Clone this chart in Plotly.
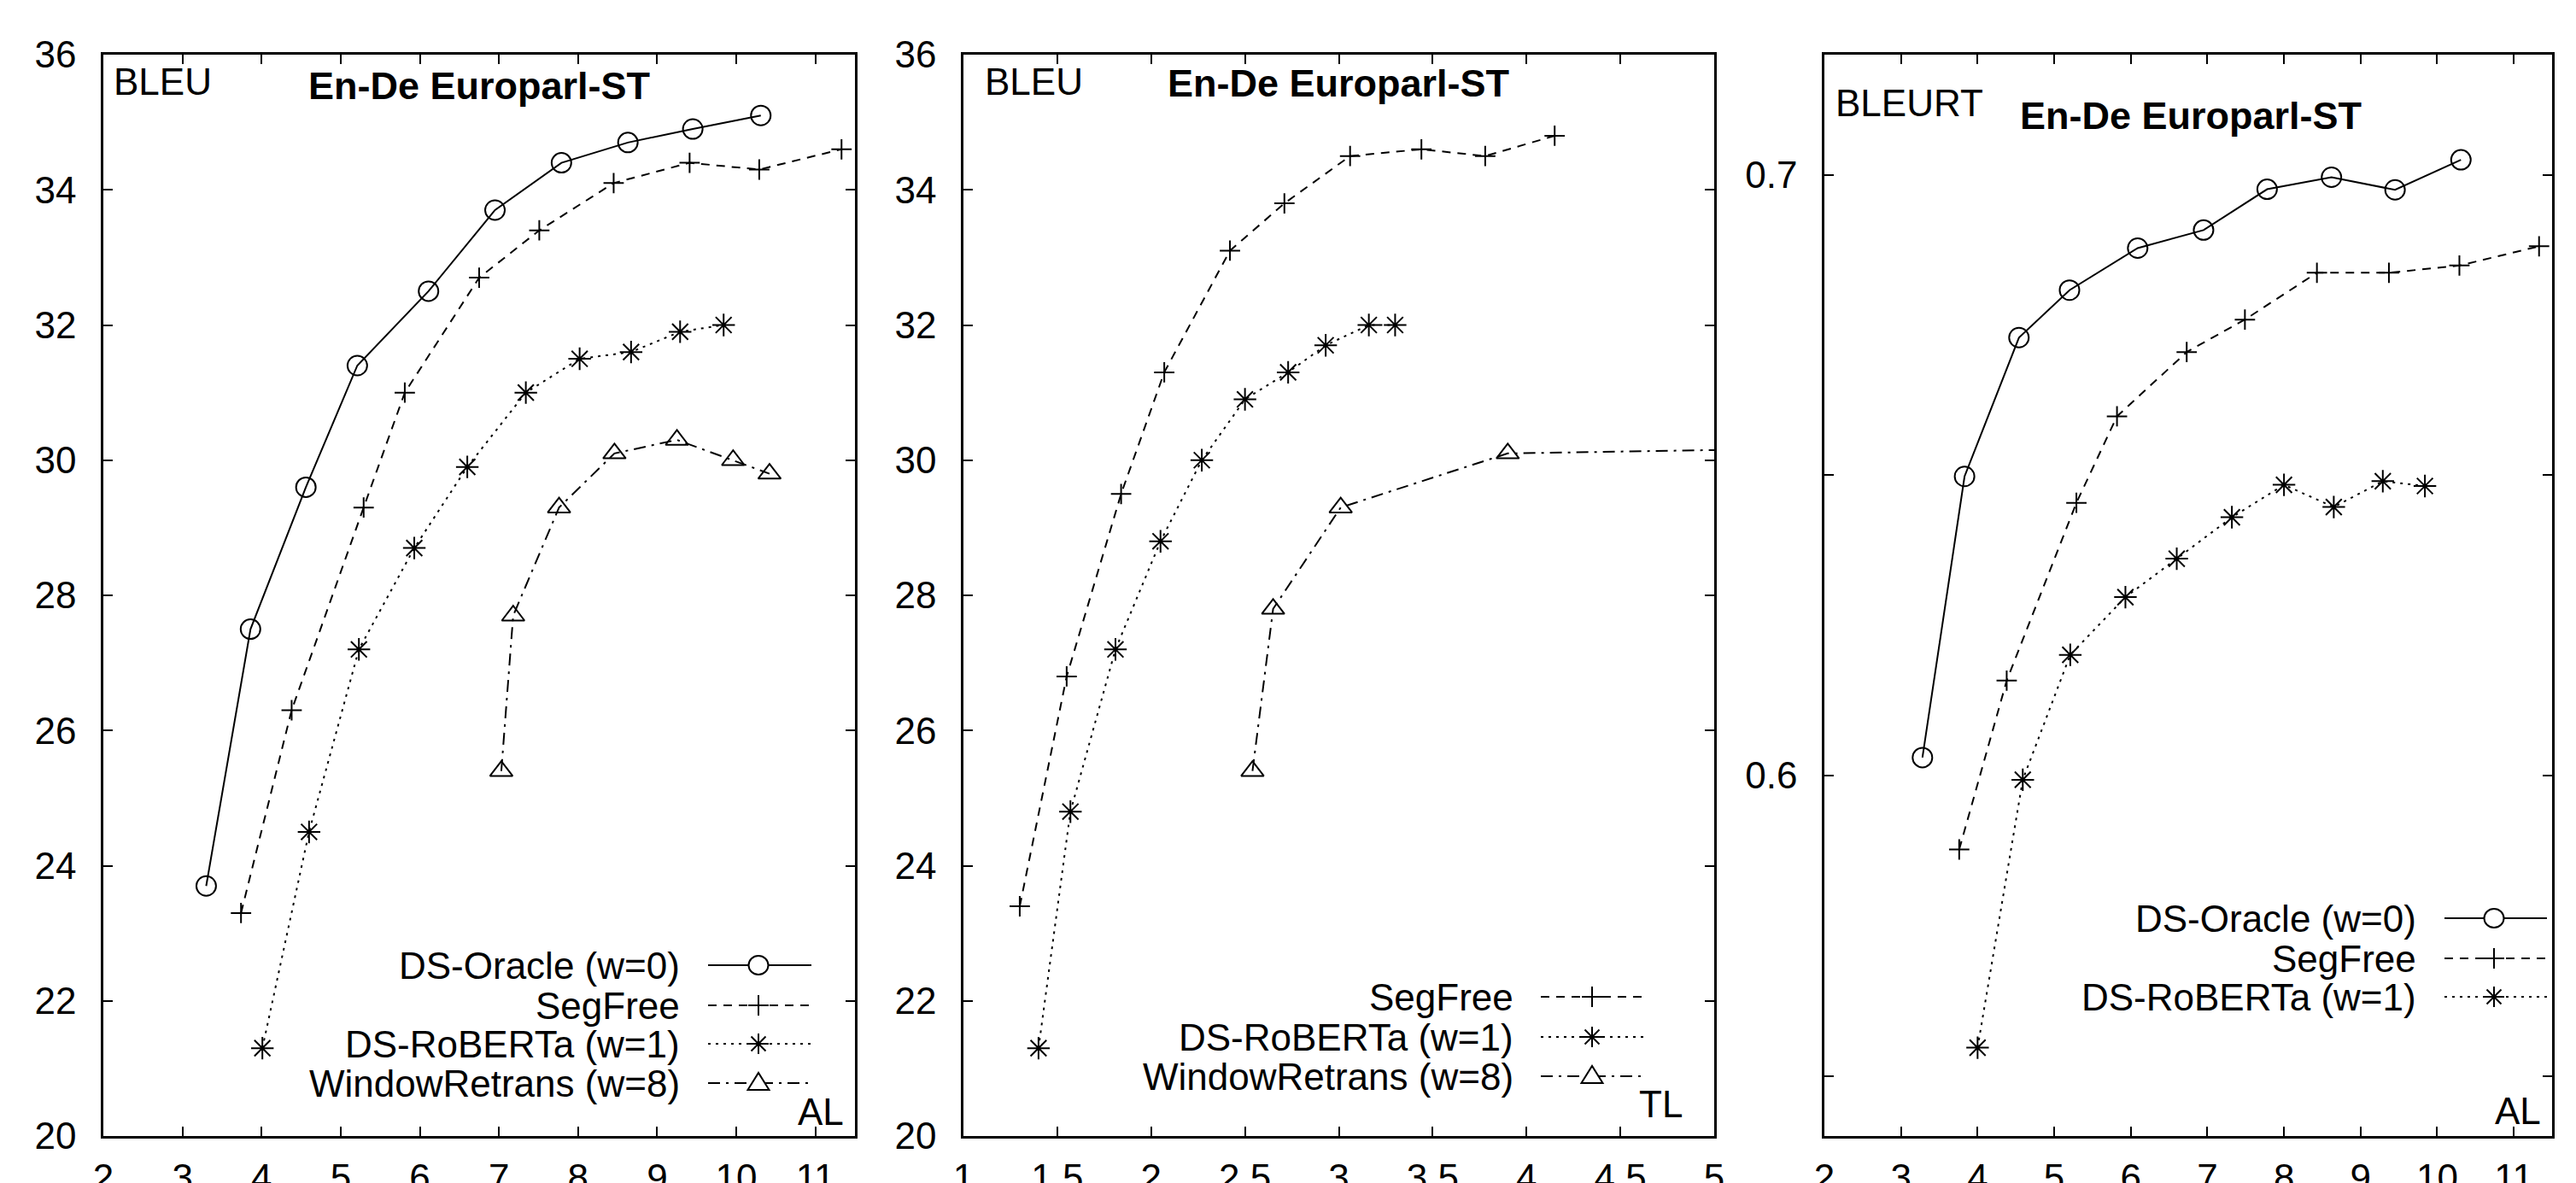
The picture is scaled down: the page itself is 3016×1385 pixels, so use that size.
import plotly.graph_objects as go

# ---------------- data ----------------
# Panel 1: BLEU vs AL
al_oracle = [3.30, 3.86, 4.56, 5.21, 6.11, 6.95, 7.79, 8.63, 9.45, 10.31]
bleu_oracle = [23.7, 27.5, 29.6, 31.4, 32.5, 33.7, 34.4, 34.7, 34.9, 35.1]
al_segfree = [3.74, 4.38, 5.29, 5.81, 6.75, 7.51, 8.45, 9.41, 10.29, 11.33]
bleu_segfree = [23.3, 26.3, 29.3, 31.0, 32.7, 33.4, 34.1, 34.4, 34.3, 34.6]
al_roberta = [4.01, 4.60, 5.23, 5.93, 6.60, 7.34, 8.02, 8.67, 9.29, 9.84]
bleu_roberta = [21.3, 24.5, 27.2, 28.7, 29.9, 31.0, 31.5, 31.6, 31.9, 32.0]
al_window = [7.03, 7.18, 7.76, 8.46, 9.25, 9.96, 10.42]
bleu_window = [25.4, 27.7, 29.3, 30.1, 30.3, 30.0, 29.8]

# Panel 2: BLEU vs TL
tl_segfree = [1.30, 1.55, 1.84, 2.07, 2.42, 2.71, 3.06, 3.44, 3.78, 4.15]
tl_bleu_segfree = [23.4, 26.8, 29.5, 31.3, 33.1, 33.8, 34.5, 34.6, 34.5, 34.8]
tl_roberta = [1.40, 1.57, 1.81, 2.05, 2.27, 2.50, 2.73, 2.93, 3.16, 3.30]
tl_bleu_roberta = [21.3, 24.8, 27.2, 28.8, 30.0, 30.9, 31.3, 31.7, 32.0, 32.0]
tl_window = [2.54, 2.65, 3.01, 3.90, 8.30]
tl_bleu_window = [25.4, 27.8, 29.3, 30.1, 30.3]

# Panel 3: BLEURT vs AL
al3_oracle = [3.28, 3.83, 4.54, 5.20, 6.09, 6.95, 7.78, 8.62, 9.45, 10.31]
bleurt_oracle = [0.6030, 0.6498, 0.6729, 0.6808, 0.6878, 0.6908, 0.6976, 0.6996, 0.6975, 0.7025]
al3_segfree = [3.76, 4.38, 5.29, 5.82, 6.73, 7.49, 8.43, 9.37, 10.29, 11.33]
bleurt_segfree = [0.5877, 0.6158, 0.6454, 0.6598, 0.6705, 0.6759, 0.6837, 0.6837, 0.6849, 0.6881]
al3_roberta = [4.00, 4.59, 5.21, 5.93, 6.60, 7.32, 8.00, 8.65, 9.29, 9.84]
bleurt_roberta = [0.5547, 0.5993, 0.6201, 0.6297, 0.6361, 0.6430, 0.6484, 0.6447, 0.6490, 0.6482]

names = {
    "oracle": "DS-Oracle (w=0)",
    "segfree": "SegFree",
    "roberta": "DS-RoBERTa (w=1)",
    "window": "WindowRetrans (w=8)",
}
x_ticks_al = [2, 3, 4, 5, 6, 7, 8, 9, 10, 11]
x_ticks_tl = [1, 1.5, 2, 2.5, 3, 3.5, 4, 4.5, 5]
y_ticks_bleu = [20, 22, 24, 26, 28, 30, 32, 34, 36]
y_ticks_bleurt = [0.55, 0.6, 0.65, 0.7]
y_ticktext_bleurt = ["", "0.6", "", "0.7"]

# ---------------- styles ----------------
W, H = 3016, 1385
FONT = "Liberation Sans, Arial, Helvetica, sans-serif"
style = {
    "oracle": dict(dash="solid", symbol="circle-open", size=23),
    "segfree": dict(dash="10px,8px", symbol="cross-thin-open", size=17),
    "roberta": dict(dash="3px,6px", symbol="asterisk-open", size=22),
    "window": dict(dash="14px,7px,3px,7px", symbol="triangle-up-open", size=23),
}

def px(x):
    return x / W

def py(y):
    return (H - y) / H

fig = go.Figure()

def add_series(key, xs, ys, ax):
    s = style[key]
    fig.add_trace(go.Scatter(
        x=xs, y=ys, mode="lines+markers", name=names[key],
        xaxis="x" + ax, yaxis="y" + ax, showlegend=False,
        line=dict(color="black", width=2, dash=s["dash"]),
        marker=dict(symbol=s["symbol"], size=s["size"], color="black",
                    line=dict(color="black", width=2)),
        cliponaxis=True,
    ))

add_series("oracle", al_oracle, bleu_oracle, "")
add_series("segfree", al_segfree, bleu_segfree, "")
add_series("roberta", al_roberta, bleu_roberta, "")
add_series("window", al_window, bleu_window, "")

add_series("segfree", tl_segfree, tl_bleu_segfree, "2")
add_series("roberta", tl_roberta, tl_bleu_roberta, "2")
add_series("window", tl_window, tl_bleu_window, "2")

add_series("oracle", al3_oracle, bleurt_oracle, "3")
add_series("segfree", al3_segfree, bleurt_segfree, "3")
add_series("roberta", al3_roberta, bleurt_roberta, "3")

# ---------------- axes ----------------
ydom = [py(1330), py(64)]
xdoms = [[px(121), px(1001)], [px(1128), px(2007)], [px(2136), px(2988)]]

def axis_common(standoff):
    return dict(
        showline=True, linecolor="black", linewidth=2.5, mirror="ticks",
        ticks="inside", ticklen=11, tickwidth=1.5, tickcolor="black",
        showgrid=False, zeroline=False, ticklabelstandoff=standoff, automargin=False,
        tickfont=dict(family=FONT, size=44, color="black"),
    )

XSO, YSO = 8, 20

layout = dict(
    width=W, height=H, margin=dict(l=0, r=0, t=0, b=0, pad=0, autoexpand=False),
    paper_bgcolor="white", plot_bgcolor="white",
    font=dict(family=FONT, size=44, color="black"),
    showlegend=False,
)
layout["xaxis"] = dict(axis_common(XSO), domain=xdoms[0], range=[2, 11.5],
                       tickvals=x_ticks_al, anchor="y")
layout["yaxis"] = dict(axis_common(YSO), domain=ydom, range=[20, 36],
                       tickvals=y_ticks_bleu, anchor="x")
layout["xaxis2"] = dict(axis_common(XSO), domain=xdoms[1], range=[1, 5],
                        tickvals=x_ticks_tl, ticktext=[str(v) for v in x_ticks_tl], anchor="y2")
layout["yaxis2"] = dict(axis_common(YSO), domain=ydom, range=[20, 36],
                        tickvals=y_ticks_bleu, anchor="x2")
layout["xaxis3"] = dict(axis_common(XSO), domain=xdoms[2], range=[2, 11.5],
                        tickvals=x_ticks_al, anchor="y3")
layout["yaxis3"] = dict(axis_common(YSO), domain=ydom, range=[0.54, 0.72],
                        tickvals=y_ticks_bleurt, ticktext=y_ticktext_bleurt, anchor="x3")
fig.update_layout(**layout)

# ---------------- annotations ----------------
ann = []

def text(x, y, s, anchor="left", size=44, bold=False):
    ann.append(dict(
        xref="paper", yref="paper", x=px(x), y=py(y), text=("<b>%s</b>" % s) if bold else s,
        showarrow=False, xanchor=anchor, yanchor="middle",
        font=dict(family=FONT, size=size, color="black"),
    ))

text(131, 96, "BLEU")
text(359, 100, "En-De Europarl-ST", bold=True, size=45)
text(990, 1301, "AL", anchor="right")

text(1151, 96, "BLEU")
text(1365, 97, "En-De Europarl-ST", bold=True, size=45)
text(1972, 1292, "TL", anchor="right")

text(2147, 120, "BLEURT")
text(2363, 135, "En-De Europarl-ST", bold=True, size=45)
text(2977, 1300, "AL", anchor="right")

# ---------------- legends (text left, key right, like gnuplot) ----------------
shapes = []

def marker_shape(key, cx, cy):
    common = dict(xref="paper", yref="paper", xsizemode="pixel", ysizemode="pixel",
                  xanchor=px(cx), yanchor=py(cy), line=dict(color="black", width=2))
    if key == "oracle":
        shapes.append(dict(common, type="circle", x0=-11.5, x1=11.5, y0=-11, y1=11,
                           fillcolor="white"))
    elif key == "segfree":
        shapes.append(dict(common, type="path", path="M-12,0H12M0,-12V12"))
    elif key == "roberta":
        shapes.append(dict(common, type="path",
                           path="M-12,0H12M0,-12V12M-8.5,-8.5L8.5,8.5M-8.5,8.5L8.5,-8.5"))
    elif key == "window":
        shapes.append(dict(common, type="path", path="M-12.5,-8L12.5,-8L0,12Z",
                           fillcolor="white"))

def legend(keys, text_right, rows, lx0, lx1, mx):
    for key, ry in zip(keys, rows):
        text(text_right, ry, names[key], anchor="right")
        shapes.append(dict(type="line", xref="paper", yref="paper",
                           x0=px(lx0), x1=px(lx1), y0=py(ry), y1=py(ry),
                           line=dict(color="black", width=2, dash=style[key]["dash"])))
        marker_shape(key, mx, ry)

legend(["oracle", "segfree", "roberta", "window"], 798, [1130, 1177, 1222, 1268], 829, 950, 888)
legend(["segfree", "roberta", "window"], 1774, [1167, 1214, 1260], 1804, 1924, 1864)
legend(["oracle", "segfree", "roberta"], 2831, [1075, 1122, 1167], 2862, 2982, 2920)

fig.update_layout(annotations=ann, shapes=shapes)

fig.write_html("out.html", config={"displayModeBar": False},
               post_script="document.body.style.margin='0';document.body.style.overflow='hidden';")
